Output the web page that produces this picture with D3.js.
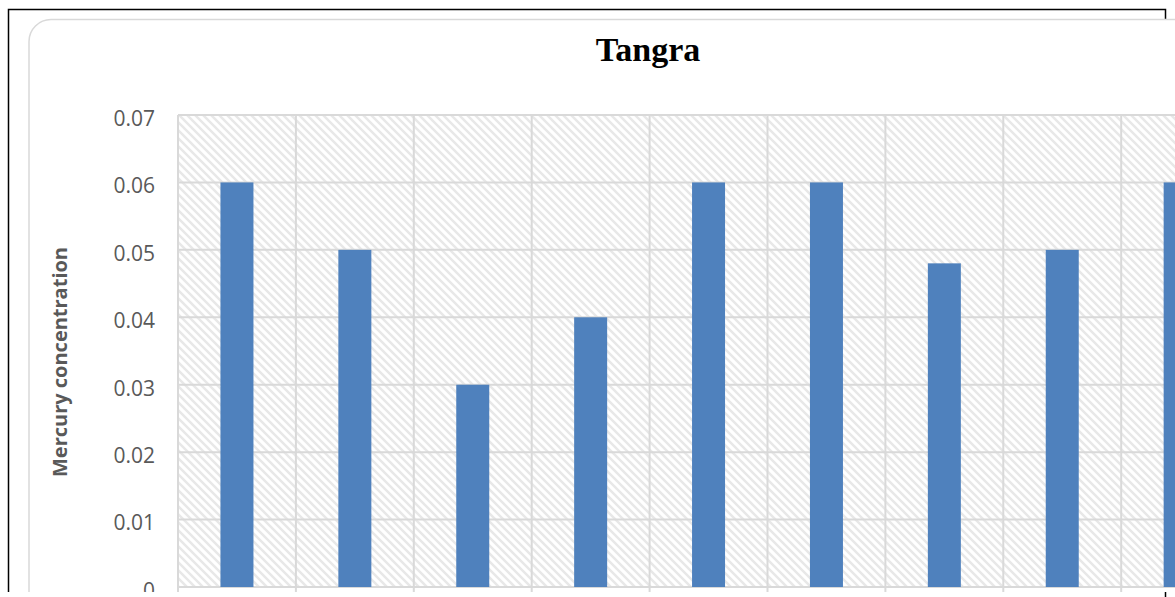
<!DOCTYPE html>
<html><head><meta charset="utf-8">
<script src="https://cdn.jsdelivr.net/npm/d3@7/dist/d3.min.js"></script>
<style>html,body{margin:0;padding:0;background:#fff;overflow:hidden}</style>
</head><body>
<script>
const categories = ["S1","S2","S3","S4","S5","S6","S7","S8","S9","S10"];
const values = [0.06, 0.05, 0.03, 0.04, 0.06, 0.06, 0.048, 0.05, 0.06, 0.06];
const yTicks = [0, 0.01, 0.02, 0.03, 0.04, 0.05, 0.06, 0.07];
const title = "Tangra";
const yTitle = "Mercury concentration";

const W = 1175, H = 597;
const svg = d3.select("body").append("svg").attr("width", W).attr("height", H);
const defs = svg.append("defs");
const pat = defs.append("pattern").attr("id","hatch").attr("patternUnits","userSpaceOnUse")
  .attr("width",8).attr("height",8);
pat.append("rect").attr("width",8).attr("height",8).attr("fill","#fff");
pat.append("path").attr("d","M-2,-2 L10,10 M-2,6 L2,10 M6,-2 L10,2")
  .attr("stroke","#e8e8e8").attr("stroke-width",2.4);
defs.append("clipPath").attr("id","clip").append("rect").attr("x",0).attr("y",0).attr("width",W).attr("height",592);

// outer black frame
const frame = svg.append("g").attr("stroke","#000").attr("stroke-width",1.5).attr("fill","none");
frame.append("path").attr("d","M8.5,592 L8.5,9.5 L1165.5,9.5 L1165.5,20");
frame.append("path").attr("d","M1165.5,592 L1165.5,597");

const g = svg.append("g").attr("clip-path","url(#clip)");
// chart background with rounded border
g.append("rect").attr("x",29).attr("y",19.5).attr("width",1300).attr("height",700)
  .attr("rx",22).attr("fill","#fff").attr("stroke","#d9d9d9").attr("stroke-width",1.5);

const x = d3.scaleBand().domain(categories).range([178, 178 + 117.9*categories.length]).padding(0);
const y = d3.scaleLinear().domain([0, 0.07]).range([587, 115]);
const x0 = 178, x1 = x.range()[1];

// plot area hatch
g.append("rect").attr("x",x0).attr("y",y(0.07)).attr("width",x1-x0).attr("height",y(0)-y(0.07)).attr("fill","url(#hatch)");

// gridlines
g.append("g").selectAll("line").data(yTicks).join("line")
  .attr("x1",x0).attr("x2",x1).attr("y1",d=>y(d)).attr("y2",d=>y(d))
  .attr("stroke","#d9d9d9").attr("stroke-width",2);
g.append("g").selectAll("line").data(categories).join("line")
  .attr("x1",d=>x(d)).attr("x2",d=>x(d)).attr("y1",y(0.07)).attr("y2",y(0)+6)
  .attr("stroke","#d9d9d9").attr("stroke-width",2);

// bars
const bw = 33;
g.append("g").selectAll("rect").data(values).join("rect")
  .attr("x",(d,i)=>x(categories[i]) + x.bandwidth()/2 - bw/2)
  .attr("y",d=>y(d)).attr("width",bw).attr("height",d=>y(0)-y(d))
  .attr("fill","#4f81bd");

// y axis labels
const yAxis = d3.axisLeft(y).tickValues(yTicks).tickSize(0).tickPadding(0)
  .tickFormat(d=> d===0 ? "0" : d3.format(".2f")(d));
const ax = g.append("g").attr("transform","translate(155,3)").call(yAxis);
ax.select(".domain").remove();
ax.selectAll("text").attr("font-family","'Open Sans', sans-serif").attr("font-size",21)
  .attr("fill","#595959").attr("dy","0.35em");

// title
g.append("text").attr("x",648).attr("y",61).attr("text-anchor","middle")
  .attr("font-family","'Liberation Serif', 'DejaVu Serif', serif").attr("font-weight","bold")
  .attr("font-size",34).attr("fill","#000").text(title);

// y title
g.append("text").attr("transform","translate(67,362) rotate(-90)").attr("text-anchor","middle")
  .attr("font-family","'Open Sans', sans-serif").attr("font-weight","bold")
  .attr("font-size",20).attr("fill","#595959").text(yTitle);
</script>
</body></html>
